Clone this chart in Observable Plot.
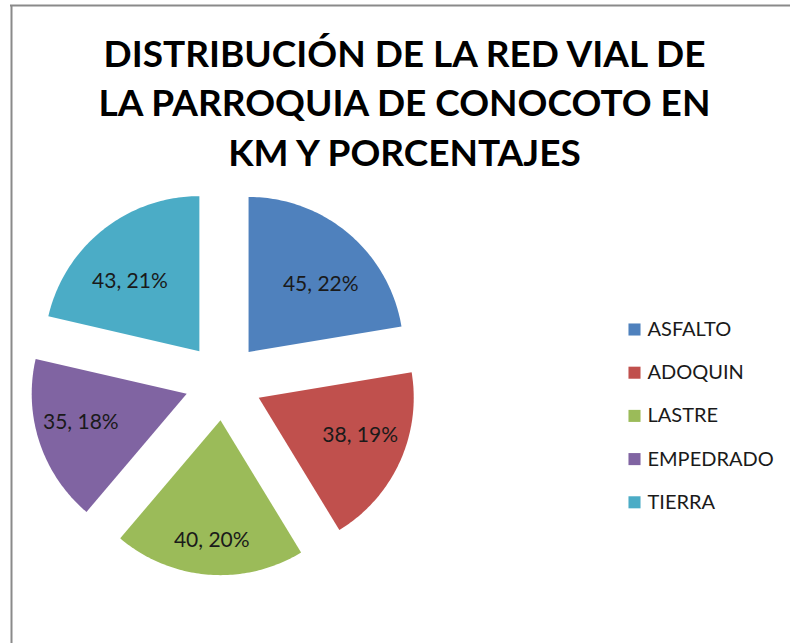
<!DOCTYPE html>
<html>
<head>
<meta charset="utf-8">
<script src="https://cdn.jsdelivr.net/npm/d3@7"></script>
<script src="https://cdn.jsdelivr.net/npm/@observablehq/plot@0.6"></script>
<style>
  html, body { margin: 0; padding: 0; background: #fff; }
  #chart svg { display: block; }
</style>
</head>
<body>
<div id="chart"></div>
<script>
// ---- data ----
const categories = ["ASFALTO", "ADOQUIN", "LASTRE", "EMPEDRADO", "TIERRA"];
const values = [45, 38, 40, 35, 43];           // km
const percents = [22, 19, 20, 18, 21];          // % as printed on the chart
const colors = ["#4F81BD", "#C0504D", "#9BBB59", "#8064A2", "#4BACC6"];
const titleLines = [
  "DISTRIBUCIÓN DE LA RED VIAL DE",
  "LA PARROQUIA DE CONOCOTO EN",
  "KM Y PORCENTAJES"
];

// ---- layout ----
const W = 790, H = 643;
const cx = 223, cy = 381, R = 155, explode = 0.25 * R;

const rows = categories.map((c, i) => ({cat: c, value: values[i], pct: percents[i]}));
const arcs = d3.pie().sort(null).value(d => d.value)(rows);

const polys = [];
const labels = [];
arcs.forEach(a => {
  const m = (a.startAngle + a.endAngle) / 2;
  const ax = cx + explode * Math.sin(m), ay = cy - explode * Math.cos(m);
  polys.push({cat: a.data.cat, x: ax, y: ay});
  const n = 80;
  for (let k = 0; k <= n; k++) {
    const t = a.startAngle + (a.endAngle - a.startAngle) * k / n;
    polys.push({cat: a.data.cat, x: ax + R * Math.sin(t), y: ay - R * Math.cos(t)});
  }
  const Lx = 0.72 * R, Ly = 0.575 * R;
  const bump = 32 * Math.pow(Math.max(0, -Math.cos(m)), 4);
  labels.push({
    cat: a.data.cat,
    x: ax + Lx * Math.sin(m),
    y: ay - Ly * Math.cos(m) + bump,
    text: `${a.data.value}, ${a.data.pct}%`
  });
});

const legendRows = categories.map((c, i) => ({cat: c, i}));

const chart = Plot.plot({
  width: W,
  height: H,
  margin: 0,
  x: {domain: [0, W], range: [0, W], axis: null},
  y: {domain: [0, H], range: [0, H], axis: null},
  color: {domain: categories, range: colors},
  style: {background: "#fff"},
  marks: [
    Plot.ruleX([11], {y1: 5, y2: H, stroke: "#8a8a8a", strokeWidth: 2}),
    Plot.ruleY([5], {x1: 10, x2: W, stroke: "#8a8a8a", strokeWidth: 2}),
    Plot.text(titleLines, {
      x: 404, y: (d, i) => 66 + i * 49.5, text: d => d,
      fontFamily: "Lato", fontWeight: "bold", fontSize: 37,
      fill: "#000", lineAnchor: "bottom", textAnchor: "middle"
    }),
    Plot.line(polys, {x: "x", y: "y", z: "cat", fill: "cat", stroke: "none", curve: "linear-closed"}),
    Plot.text(labels, {
      x: "x", y: "y", text: "text",
      fontFamily: "Lato", fontSize: 21, fill: "#1a1a1a", textAnchor: "middle"
    }),
    Plot.dot(legendRows, {
      x: 634, y: d => 329 + d.i * 43.2, fill: "cat", symbol: "square", r: 6.8, stroke: "none"
    }),
    Plot.text(legendRows, {
      x: 647, y: d => 329 + d.i * 43.2, text: "cat",
      fontFamily: "Lato", fontSize: 20, fill: "#1a1a1a", textAnchor: "start"
    })
  ]
});
document.getElementById("chart").appendChild(chart);
</script>
</body>
</html>
